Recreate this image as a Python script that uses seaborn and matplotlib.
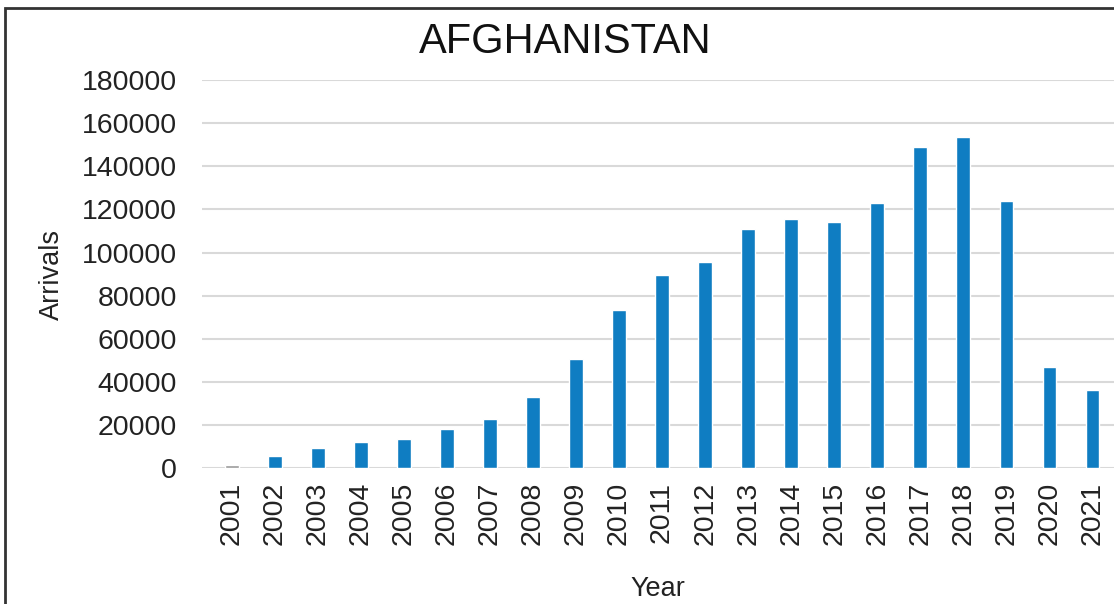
import pandas as pd
import numpy as np
import matplotlib.pyplot as plt
import seaborn as sns
from matplotlib.patches import Rectangle

# Data
years = [str(y) for y in range(2001, 2022)]
arrivals = [1600, 5600, 9400, 12300, 13600, 18300, 22700, 32800, 50600, 73300,
            89500, 95400, 110800, 115500, 114200, 122900, 148900, 153500,
            123700, 47100, 36000]
bar_colors = ["#9A9A9A"] + ["#0F7DC2"] * 20

df = pd.DataFrame({"Year": years, "Arrivals": arrivals})

sns.set_style("white")
plt.rcParams["font.family"] = ["Liberation Sans", "DejaVu Sans"]

fig = plt.figure(figsize=(11.14, 6.04), dpi=100)
ax = fig.add_axes([0.181, 0.225, 0.819, 0.6425])

sns.barplot(data=df, x="Year", y="Arrivals", hue="Year",
            palette=bar_colors, saturation=1, width=0.32, legend=False, ax=ax)

ax.set_ylim(0, 180000)
ax.set_xlim(-0.7, 20.5)
ax.set_yticks(np.arange(0, 180001, 20000))
ax.yaxis.grid(True, color="#D9D9D9", linewidth=1.5)
ax.set_axisbelow(True)
sns.despine(ax=ax, left=True, bottom=True)
ax.tick_params(axis="both", length=0, labelsize=20.5, colors="#222222")
ax.tick_params(axis="y", pad=18)
ax.tick_params(axis="x", pad=10)
plt.setp(ax.get_xticklabels(), rotation=90)

ax.set_xlabel("Year", fontsize=19.5, color="#222222", labelpad=22)
ax.set_ylabel("Arrivals", fontsize=19.5, color="#222222", labelpad=12)
fig.text(0.507, 0.93, "AFGHANISTAN", fontsize=30, ha="center", va="center",
         color="#111111")

# outer frame of the chart
fig.patches.append(Rectangle((5 / 1114, -0.1), 1.2, 1.1 - 8 / 604,
                             transform=fig.transFigure, fill=False,
                             edgecolor="#333333", linewidth=2))

fig.savefig("out.png", dpi=100)
